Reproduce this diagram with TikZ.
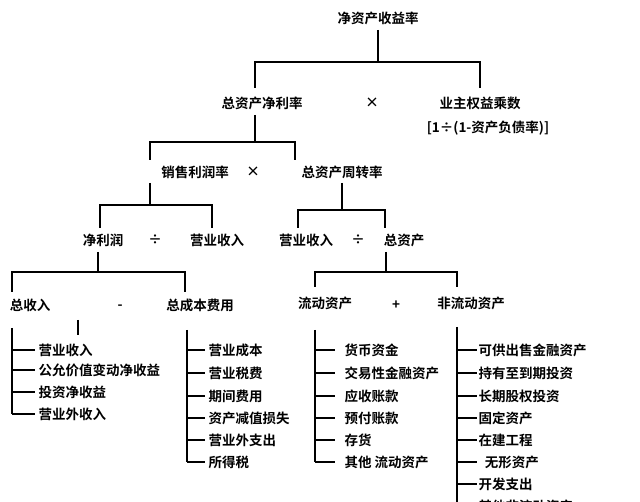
\documentclass[tikz,border=0pt]{standalone}
\usepackage{fontspec}
\newfontfamily\cjk{Noto Sans CJK SC Bold}
\begin{document}
\begin{tikzpicture}[x=1pt,y=-1pt,line width=1.3pt,
  t/.style={font=\cjk\fontsize{13.5}{15}\selectfont, inner sep=0pt},
  l/.style={t,anchor=west}]
\useasboundingbox (0,0) rectangle (640,502);
\begin{scope}
\clip (0,0) rectangle (640,502);
\node[t] (roe) at (378,18) {净资产收益率};
\node[t] (zzc) at (262,103) {总资产净利率};
\node[t] (x1) at (372,103) {×};
\node[t] (yz) at (480,103) {业主权益乘数};
\node[t] (yzf) at (488,128) {[1÷(1-资产负债率)]};
\draw (378,30) -- (378,62);
\draw (255,88) -- (255,62) -- (480,62) -- (480,88);
\node[t] (xs) at (195,172) {销售利润率};
\node[t] (x2) at (253,172) {×};
\node[t] (zz) at (342,172) {总资产周转率};
\draw (255,115) -- (255,142);
\draw (150,160) -- (150,142) -- (295,142) -- (295,160);
\node[t] (jlr) at (103,240) {净利润};
\node[t] (d1) at (155,240) {÷};
\node[t] (ys1) at (217,240) {营业收入};
\node[t] (ys2) at (306,240) {营业收入};
\node[t] (d2) at (358,240) {÷};
\node[t] (zc) at (404,240) {总资产};
\draw (150,183) -- (150,205);
\draw (100,228) -- (100,205) -- (212,205) -- (212,228);
\draw (342,183) -- (342,210);
\draw (298,228) -- (298,210) -- (385,210) -- (385,228);
\node[t] (zsr) at (30,305) {总收入};
\node[t] (mi) at (120,307) {-};
\node[t] (zcb) at (200,305) {总成本费用};
\node[t] (ld) at (325,303) {流动资产};
\node[t] (pl) at (396,305) {+};
\node[t] (fld) at (471,303) {非流动资产};
\draw (98,252) -- (98,272);
\draw (12,292) -- (12,272) -- (185,272) -- (185,292);
\draw (386,252) -- (386,272);
\draw (315,287) -- (315,272) -- (457,272) -- (457,287);
\draw (78,320) -- (78,335);
\draw (12,328) -- (12,414);
\foreach \y/\s in {350/营业收入,370/公允价值变动净收益,392/投资净收益,414/营业外收入}
  {\draw (12,\y) -- (35,\y); \node[l] at (38,\y) {\s};}
\draw (187,330) -- (187,462);
\foreach \y/\s in {350/营业成本,373/营业税费,396/期间费用,418/资产减值损失,440/营业外支出,462/所得税}
  {\draw (187,\y) -- (205,\y); \node[l] at (208,\y) {\s};}
\draw (315,330) -- (315,462);
\foreach \y/\s in {350/货币资金,373/交易性金融资产,396/应收账款,418/预付账款,440/存货,462/其他\ 流动资产}
  {\draw (315,\y) -- (335,\y); \node[l] at (344,\y) {\s};}
\draw (457,327) -- (457,510);
\foreach \y/\s in {350/可供出售金融资产,373/持有至到期投资,396/长期股权投资,418/固定资产,440/在建工程,462/\ \ 无形资产,484/开发支出,506/其他非流动资产}
  {\draw (457,\y) -- (477,\y); \node[l] at (478,\y) {\s};}
\end{scope}
\end{tikzpicture}
\end{document}
